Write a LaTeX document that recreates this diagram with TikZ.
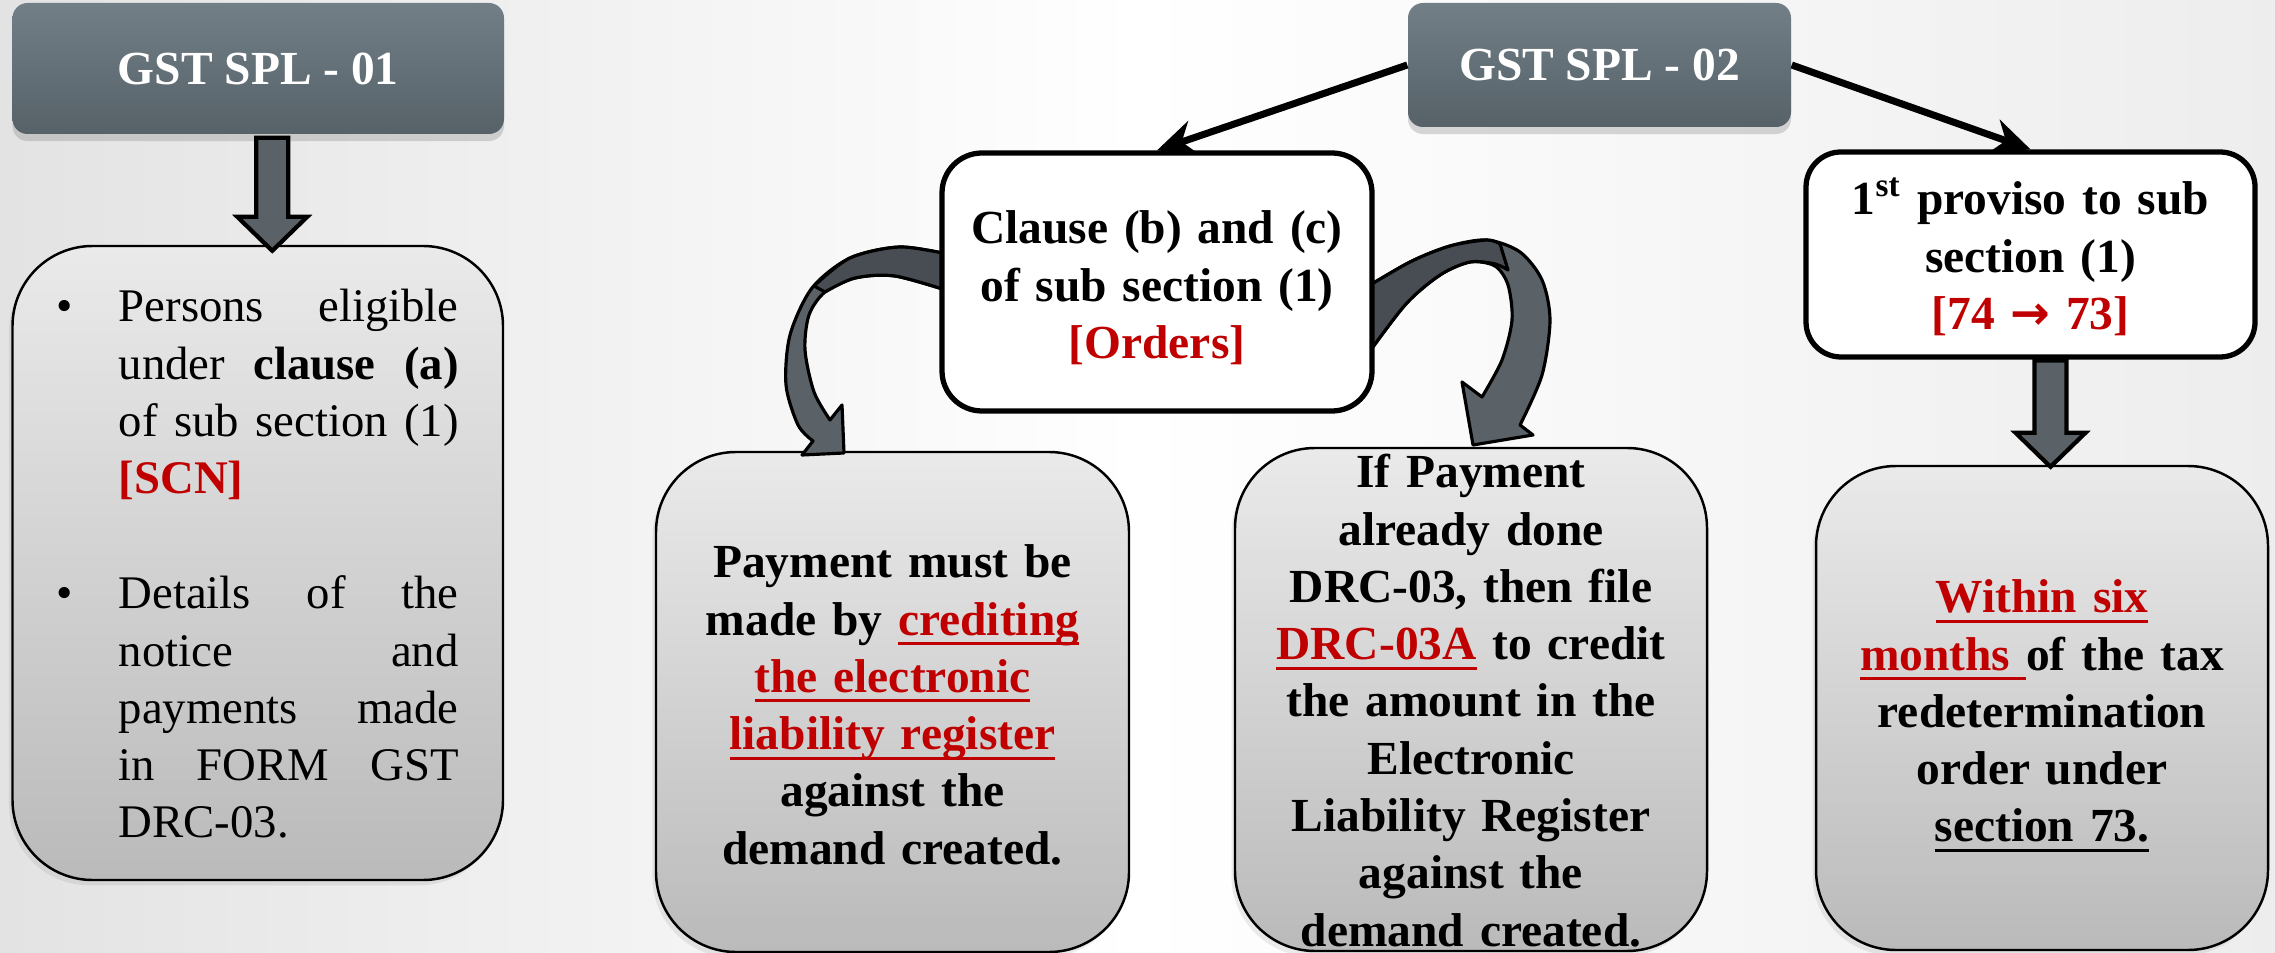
\documentclass[tikz,border=0pt]{standalone}
\usepackage{fontspec}
\setmainfont{Liberation Serif}
\newfontfamily\arrowfont{DejaVu Sans}
\usetikzlibrary{arrows.meta,calc,shadows}

\definecolor{spred}{HTML}{C00000}
\definecolor{titletop}{HTML}{727F86}
\definecolor{titlebot}{HTML}{566168}
\definecolor{boxtop}{HTML}{EAEAEA}
\definecolor{boxbot}{HTML}{BABABA}
\definecolor{bandlight}{HTML}{5A6267}
\definecolor{banddark}{HTML}{474D52}

\newcommand\bodyfont{\fontsize{13.5}{16.3}\selectfont}
\newlength\ulwidth
\newlength\listwidth
\setlength\listwidth{3.40cm}
\newcommand\uln[1]{\leavevmode\mbox{\settowidth\ulwidth{#1}\rlap{\rule[-2.8pt]{\ulwidth}{0.85pt}}#1}}
\newcommand\justline[1]{\leavevmode\hbox to \listwidth{\spaceskip=0.25em plus 1fil\relax #1}}
% block arrow pointing down: #1 top of shaft, #2 gives the height of the tip
\newcommand\blockdown[2]{%
  \draw[blockarrow] let \p1=(#1), \p2=(#2) in
    (\x1-0.16cm,\y1) -- (\x1+0.16cm,\y1) -- (\x1+0.16cm,\y2+0.34cm)
    -- (\x1+0.35cm,\y2+0.34cm) -- (\x1,\y2) -- (\x1-0.35cm,\y2+0.34cm)
    -- (\x1-0.16cm,\y2+0.34cm) -- cycle;}

\tikzset{
  titlebox/.style={rounded corners=0.15cm, top color=titletop, bottom color=titlebot,
    text=white, font=\bfseries\bodyfont,
    drop shadow={shadow xshift=0pt, shadow yshift=-2pt, opacity=0.3}},
  greybox/.style={draw=black, line width=0.7pt, rounded corners=0.8cm,
    top color=boxtop, bottom color=boxbot,
    drop shadow={shadow xshift=-1pt, shadow yshift=-1.5pt, opacity=0.15}},
  whitebox/.style={draw=black, line width=1.5pt, fill=white},
  link/.style={line width=2pt, -{Stealth[length=11pt,width=10pt]}},
  blockarrow/.style={draw=black, line width=1.2pt, fill=bandlight},
  band/.style={draw=black, line width=0.9pt, line join=round},
  boxtext/.style={font=\bfseries\bodyfont, align=center, inner sep=0pt, anchor=north},
  listtext/.style={font=\fontsize{13.3}{16.3}\selectfont, text width=3.40cm, align=left,
    inner sep=0pt, anchor=north west},
}

\begin{document}
\begin{tikzpicture}
\useasboundingbox (0,0) rectangle (22.75,-9.53);
\shade[left color=gray!22, right color=gray!14, middle color=white] (0,0) rectangle (22.75,-9.53);

\node[greybox, minimum width=4.905cm, minimum height=6.34cm] (b1) at (2.5775,-5.63) {};
\node[greybox, minimum width=4.73cm, minimum height=5.0cm] (b2) at (8.925,-7.02) {};
\node[greybox, minimum width=4.72cm, minimum height=5.03cm] (b3) at (14.71,-6.995) {};
\node[greybox, minimum width=4.52cm, minimum height=4.84cm] (b4) at (20.42,-7.08) {};

% curved arrows out of the clause box
\draw[band, fill=bandlight] plot[smooth] coordinates {(9.52,-2.55) (9.0,-2.47) (8.5,-2.58) (8.12,-2.88) (7.9,-3.35) (7.86,-3.85) (7.98,-4.25) (8.13,-4.41)}
  -- (8.02,-4.55) -- (8.44,-4.53) -- (8.42,-4.05)
  -- plot[smooth] coordinates {(8.30,-4.20) (8.14,-3.92) (8.05,-3.5) (8.09,-3.15) (8.25,-2.92) (8.55,-2.78) (8.95,-2.76) (9.52,-2.92)} -- cycle;
\draw[band, fill=banddark] plot[smooth] coordinates {(9.52,-2.55) (9.0,-2.47) (8.5,-2.58) (8.14,-2.86)}
  -- plot[smooth] coordinates {(8.25,-2.92) (8.55,-2.78) (8.95,-2.76) (9.52,-2.92)} -- cycle;
\draw[band, fill=bandlight] plot[smooth] coordinates {(13.62,-2.90) (14.1,-2.62) (14.5,-2.46) (14.87,-2.40) (15.2,-2.52) (15.42,-2.8) (15.5,-3.2) (15.42,-3.75) (15.2,-4.25)}
  -- (15.33,-4.35) -- (14.73,-4.45) -- (14.62,-3.82)
  -- plot[smooth] coordinates {(14.82,-3.97) (15.02,-3.6) (15.12,-3.2) (15.08,-2.85) (14.95,-2.66) (14.7,-2.62) (14.4,-2.75) (14.05,-3.05) (13.62,-3.62)} -- cycle;
\draw[band, fill=banddark] plot[smooth] coordinates {(13.62,-2.90) (14.1,-2.62) (14.5,-2.46) (14.87,-2.40) (15.0,-2.44)}
  -- plot[smooth] coordinates {(15.08,-2.7) (14.95,-2.64) (14.7,-2.62) (14.4,-2.75) (14.05,-3.05) (13.62,-3.62)} -- cycle;

\node[whitebox, minimum width=4.3cm, minimum height=2.58cm, rounded corners=0.4cm] (clause) at (11.57,-2.82) {};
\node[whitebox, minimum width=4.49cm, minimum height=2.05cm, rounded corners=0.35cm] (prov) at (20.305,-2.545) {};
\node[titlebox, minimum width=4.915cm, minimum height=1.31cm] (spl1) at (2.5825,-0.685) {GST SPL - 01};
\node[titlebox, minimum width=3.83cm, minimum height=1.24cm] (spl2) at (15.995,-0.65) {GST SPL - 02};

\draw[link] (spl2.west) -- (clause.north);
\draw[link] (spl2.east) -- (prov.north);

\coordinate (a1top) at ([xshift=0.14cm,yshift=-0.03cm]spl1.south);
\coordinate (a1tip) at ([yshift=-0.06cm]b1.north);
\blockdown{a1top}{a1tip}
\coordinate (a2top) at ([xshift=0.2cm,yshift=-0.01cm]prov.south);
\coordinate (a2tip) at ([yshift=-0.02cm]b4.north);
\blockdown{a2top}{a2tip}

\node[listtext] (b1first) at (1.18,-2.81) {\strut\justline{Persons eligible}\\
  \justline{under \textbf{clause (a)}}\\
  \justline{of sub section (1)}\\
  \textcolor{spred}{\textbf{[SCN]}}};
\node[listtext] (b1second) at (1.18,-5.68) {\strut\justline{Details of the}\\
  \justline{notice and}\\
  \justline{payments made}\\
  \justline{in FORM GST}\\
  DRC-03.};
\node[inner sep=0pt, anchor=north west, font=\fontsize{13.3}{16.3}\selectfont] (bul1) at (0.56,-2.81) {\strut•};
\node[inner sep=0pt, anchor=north west, font=\fontsize{13.3}{16.3}\selectfont] (bul2) at (0.56,-5.68) {\strut•};

\node[boxtext, text width=4.2cm] (clausetext) at (11.57,-2.03) {\strut Clause (b) and (c)\\
  of sub section (1)\\
  \textcolor{spred}{[Orders]}};
\node[boxtext, text width=4.4cm] (provtext) at (20.305,-1.74) {\strut 1\textsuperscript{st} proviso to sub\\
  section (1)\\
  \textcolor{spred}{[74 {\arrowfont →} 73]}};

\node[boxtext, text width=4.4cm] (b2text) at (8.925,-5.37) {\strut Payment must be\\
  made by \textcolor{spred}{\uln{crediting}}\\
  \textcolor{spred}{\uln{the electronic}}\\
  \textcolor{spred}{\uln{liability register}}\\
  against the\\
  demand created.};
\node[boxtext, text width=4.4cm] (b3text) at (14.71,-4.47) {\strut If Payment\\
  already done\\
  DRC-03, then file\\
  \textcolor{spred}{\uln{DRC-03A}} to credit\\
  the amount in the\\
  Electronic\\
  Liability Register\\
  against the\\
  demand created.};
\node[boxtext, text width=4.3cm] (b4text) at (20.42,-5.72) {\strut\textcolor{spred}{\uln{Within six}}\\
  \textcolor{spred}{\uln{months\ }}of the tax\\
  redetermination\\
  order under\\
  \uln{section 73.}};
\end{tikzpicture}
\end{document}
